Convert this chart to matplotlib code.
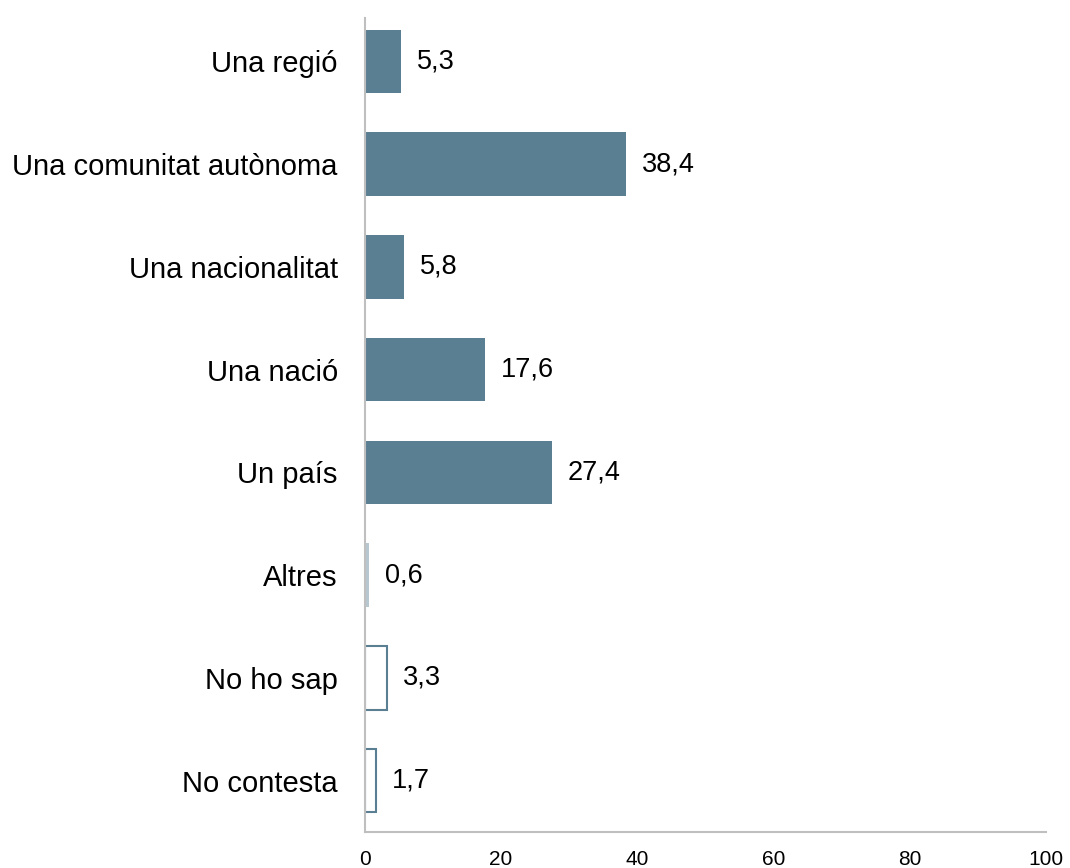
import matplotlib
matplotlib.use('Agg')
import matplotlib.pyplot as plt

categories = ["Una regió", "Una comunitat autònoma", "Una nacionalitat", "Una nació",
              "Un país", "Altres", "No ho sap", "No contesta"]
values = [5.3, 38.4, 5.8, 17.6, 27.4, 0.6, 3.3, 1.7]
# bar style per category: solid, light, or outline
kinds = ["solid", "solid", "solid", "solid", "solid", "light", "outline", "outline"]
xticks = [0, 20, 40, 60, 80, 100]

dark = '#5B7F92'
light = '#B7C7D0'
axis_grey = '#BFBFBF'

plt.rcParams['font.family'] = ['Liberation Sans', 'DejaVu Sans']

fig = plt.figure(figsize=(10.70, 8.68), dpi=100)
ax = fig.add_axes([0.341, 0.0415, 0.6366, 0.9375])

for i, (v, k) in enumerate(zip(values, kinds)):
    if k == "solid":
        ax.barh(i, v, height=0.62, color=dark, edgecolor='none')
    elif k == "light":
        ax.barh(i, v, height=0.62, color=light, edgecolor='none')
    else:
        ax.barh(i, v, height=0.62, color='white', edgecolor=dark, linewidth=1.5)
    ax.text(v + 2.3, i, "{:.1f}".format(v).replace('.', ','), va='center', ha='left',
            fontsize=19.5, color='black')

ax.set_xlim(0, 100)
ax.set_ylim(7.5, -0.42)
ax.set_xticks(xticks)
ax.set_xticklabels([str(t) for t in xticks], fontsize=15)
ax.set_yticks(range(len(categories)))
ax.set_yticklabels(categories, fontsize=21)
ax.tick_params(axis='both', length=0)
ax.tick_params(axis='x', pad=13)
ax.tick_params(axis='y', pad=19.5)

for s in ['top', 'right']:
    ax.spines[s].set_visible(False)
for s in ['left', 'bottom']:
    ax.spines[s].set_color(axis_grey)
    ax.spines[s].set_linewidth(1.5)

fig.savefig("out.png", dpi=100, facecolor='white')
